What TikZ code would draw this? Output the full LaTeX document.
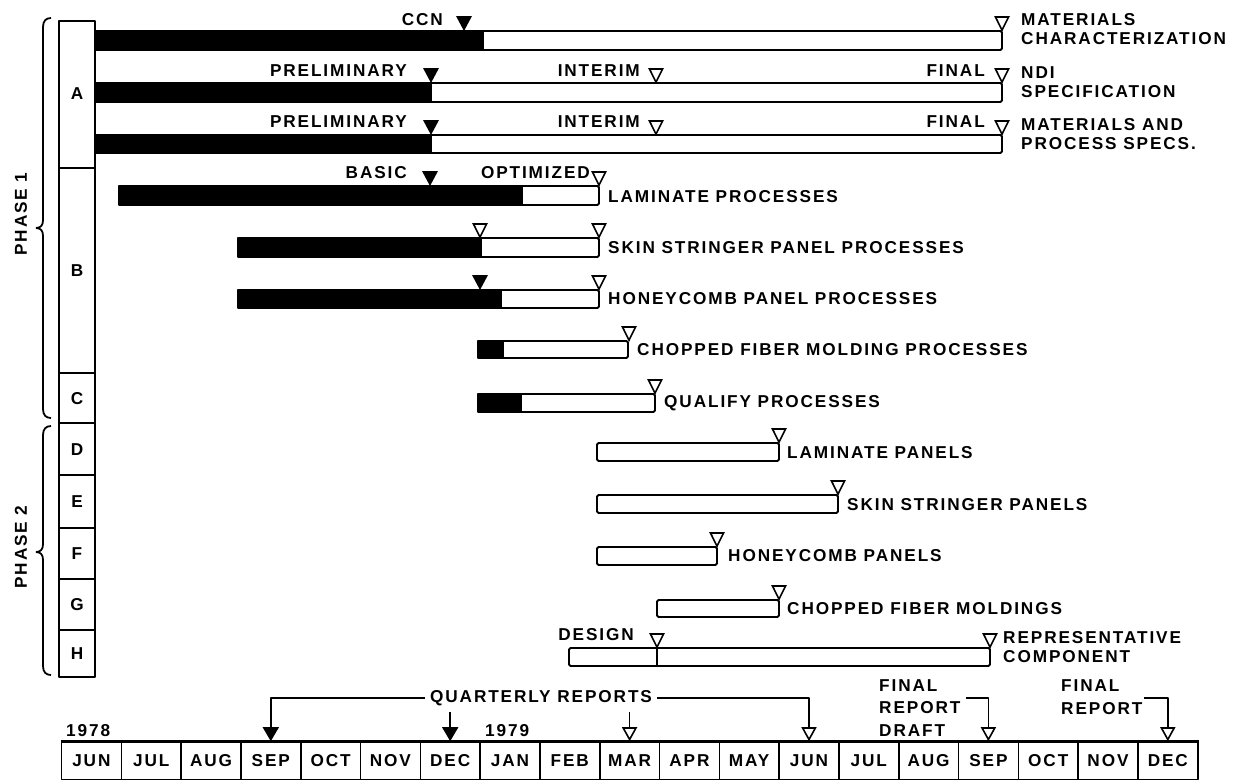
\documentclass[tikz,border=0pt]{standalone}
\usepackage{fontspec}
\newfontfamily\chartfont[LetterSpace=11]{Liberation Sans}
\usetikzlibrary{arrows.meta}
\tikzset{
  lbl/.style={font=\chartfont\bfseries\fontsize{17.2bp}{19bp}\selectfont,inner sep=0pt},
  tall/.style={lbl,font=\chartfont\bfseries\fontsize{17.2bp}{22.5bp}\selectfont,align=left},
  bar/.style={draw,line width=1.8bp,fill=white,rounded corners=1.5bp},
  donebar/.style={draw,line width=1.8bp,fill=black},
  month/.style={lbl,draw,line width=1.6bp,minimum width=59.8bp,minimum height=37.5bp},
  conn/.style={line width=1.6bp},
  fullmark/.pic={\fill (-8bp,15bp) -- (8bp,15bp) -- (0bp,0bp) -- cycle;},
  openmark/.pic={\draw[line width=1.6bp,fill=white,line join=miter] (-6.5bp,14bp) -- (6.5bp,14bp) -- (0bp,0.8bp) -- cycle;},
}
\begin{document}
\begin{tikzpicture}[yscale=-1,line join=bevel]
\useasboundingbox (0bp,0bp) rectangle (1245bp,780bp);
%% task column
\draw[line width=1.8bp] (59bp,21bp) rectangle (95bp,677bp);
\draw[line width=1.8bp] (59bp,168bp) -- (95bp,168bp);
\draw[line width=1.8bp] (59bp,373bp) -- (95bp,373bp);
\draw[line width=1.8bp] (59bp,423bp) -- (95bp,423bp);
\draw[line width=1.8bp] (59bp,475bp) -- (95bp,475bp);
\draw[line width=1.8bp] (59bp,528bp) -- (95bp,528bp);
\draw[line width=1.8bp] (59bp,579bp) -- (95bp,579bp);
\draw[line width=1.8bp] (59bp,630bp) -- (95bp,630bp);
\node (colA) at (77bp,94bp) [lbl] {A};
\node (colB) at (77bp,271bp) [lbl] {B};
\node (colC) at (77bp,399bp) [lbl] {C};
\node (colD) at (77bp,450bp) [lbl] {D};
\node (colE) at (77bp,502bp) [lbl] {E};
\node (colF) at (77bp,554bp) [lbl] {F};
\node (colG) at (77bp,605bp) [lbl] {G};
\node (colH) at (77bp,654bp) [lbl] {H};
%% phases
\draw[line width=1.8bp] (51bp,18bp) .. controls (46bp,18bp) and (43bp,21bp) .. (43bp,27bp) -- (43bp,220bp) .. controls (43bp,225bp) and (41bp,228bp) .. (36bp,228bp) .. controls (41bp,228bp) and (43bp,231bp) .. (43bp,236bp) -- (43bp,409bp) .. controls (43bp,415bp) and (46bp,418bp) .. (51bp,418bp);
\draw[line width=1.8bp] (51bp,426bp) .. controls (46bp,426bp) and (43bp,429bp) .. (43bp,435bp) -- (43bp,544bp) .. controls (43bp,549bp) and (41bp,552bp) .. (36bp,552bp) .. controls (41bp,552bp) and (43bp,555bp) .. (43bp,560bp) -- (43bp,666bp) .. controls (43bp,672bp) and (46bp,675bp) .. (51bp,675bp);
\node (phase1) at (21bp,214bp) [lbl,rotate=90] {PHASE 1};
\node (phase2) at (21bp,547bp) [lbl,rotate=90] {PHASE 2};
%% A
\draw[bar] (95bp,31bp) rectangle (1002bp,50bp);
\draw[donebar] (95bp,31bp) rectangle (483bp,50bp);
\pic at (464bp,31bp) {fullmark};
\pic at (1002bp,31bp) {openmark};
\node (ccn) at (443bp,20bp) [lbl,anchor=east] {CCN};
\node (matchar) at (1021bp,29bp) [lbl,anchor=west,align=left] {MATERIALS\\CHARACTERIZATION};
\draw[bar] (95bp,83bp) rectangle (1002bp,102bp);
\draw[donebar] (95bp,83bp) rectangle (431bp,102bp);
\pic at (431bp,83bp) {fullmark};
\pic at (656bp,83bp) {openmark};
\pic at (1002bp,83bp) {openmark};
\node (ndiprel) at (407bp,71bp) [lbl,anchor=east] {PRELIMINARY};
\node (ndiint) at (640bp,71bp) [lbl,anchor=east] {INTERIM};
\node (ndifin) at (985bp,71bp) [lbl,anchor=east] {FINAL};
\node (ndispec) at (1021bp,82bp) [lbl,anchor=west,align=left] {NDI\\SPECIFICATION};
\draw[bar] (95bp,135bp) rectangle (1002bp,153bp);
\draw[donebar] (95bp,135bp) rectangle (431bp,153bp);
\pic at (431bp,135bp) {fullmark};
\pic at (656bp,135bp) {openmark};
\pic at (1002bp,135bp) {openmark};
\node (mpprel) at (407bp,122bp) [lbl,anchor=east] {PRELIMINARY};
\node (mpint) at (640bp,122bp) [lbl,anchor=east] {INTERIM};
\node (mpfin) at (985bp,122bp) [lbl,anchor=east] {FINAL};
\node (mpspec) at (1021bp,134bp) [lbl,anchor=west,align=left] {MATERIALS AND\\PROCESS SPECS.};
%% B
\draw[bar] (119bp,186bp) rectangle (599bp,205bp);
\draw[donebar] (119bp,186bp) rectangle (522bp,205bp);
\pic at (430bp,186bp) {fullmark};
\pic at (599bp,186bp) {openmark};
\node (basic) at (407bp,173bp) [lbl,anchor=east] {BASIC};
\node (optim) at (590bp,173bp) [lbl,anchor=east] {OPTIMIZED};
\node (lamproc) at (608bp,197bp) [lbl,anchor=west] {LAMINATE PROCESSES};
\draw[bar] (238bp,238bp) rectangle (599bp,257bp);
\draw[donebar] (238bp,238bp) rectangle (481bp,257bp);
\pic at (480bp,238bp) {openmark};
\pic at (599bp,238bp) {openmark};
\node (ssproc) at (608bp,248bp) [lbl,anchor=west] {SKIN STRINGER PANEL PROCESSES};
\draw[bar] (238bp,290bp) rectangle (599bp,308bp);
\draw[donebar] (238bp,290bp) rectangle (501bp,308bp);
\pic at (480bp,290bp) {fullmark};
\pic at (599bp,290bp) {openmark};
\node (hcproc) at (608bp,299bp) [lbl,anchor=west] {HONEYCOMB PANEL PROCESSES};
\draw[bar] (478bp,341bp) rectangle (628bp,358bp);
\draw[donebar] (478bp,341bp) rectangle (503bp,358bp);
\pic at (629bp,341bp) {openmark};
\node (cfproc) at (637bp,350bp) [lbl,anchor=west] {CHOPPED FIBER MOLDING PROCESSES};
%% C
\draw[bar] (478bp,394bp) rectangle (655bp,412bp);
\draw[donebar] (478bp,394bp) rectangle (521bp,412bp);
\pic at (655bp,394bp) {openmark};
\node (qualproc) at (664bp,403bp) [lbl,anchor=west] {QUALIFY PROCESSES};
%% D - H
\draw[bar] (597bp,443bp) rectangle (779bp,461bp);
\pic at (779bp,443bp) {openmark};
\node (lampan) at (787bp,453bp) [lbl,anchor=west] {LAMINATE PANELS};
\draw[bar] (597bp,495bp) rectangle (838bp,513bp);
\pic at (838bp,495bp) {openmark};
\node (sspan) at (847bp,505bp) [lbl,anchor=west] {SKIN STRINGER PANELS};
\draw[bar] (597bp,547bp) rectangle (717bp,565bp);
\pic at (717bp,547bp) {openmark};
\node (hcpan) at (728bp,556bp) [lbl,anchor=west] {HONEYCOMB PANELS};
\draw[bar] (657bp,600bp) rectangle (779bp,617bp);
\pic at (779bp,600bp) {openmark};
\node (cfmold) at (787bp,609bp) [lbl,anchor=west] {CHOPPED FIBER MOLDINGS};
\draw[bar] (569bp,648bp) rectangle (990bp,666bp);
\draw[line width=1.6bp] (657bp,648bp) -- (657bp,666bp);
\pic at (657bp,648bp) {openmark};
\pic at (990bp,648bp) {openmark};
\node (design) at (634bp,635bp) [lbl,anchor=east] {DESIGN};
\node (repcomp) at (1003bp,647bp) [lbl,anchor=west,align=left] {REPRESENTATIVE\\COMPONENT};
%% months
\node (jun78) at (91.4bp,760.75bp) [month] {JUN};
\node (jul78) at (151.2bp,760.75bp) [month] {JUL};
\node (aug78) at (211.0bp,760.75bp) [month] {AUG};
\node (sep78) at (270.8bp,760.75bp) [month] {SEP};
\node (oct78) at (330.6bp,760.75bp) [month] {OCT};
\node (nov78) at (390.4bp,760.75bp) [month] {NOV};
\node (dec78) at (450.2bp,760.75bp) [month] {DEC};
\node (jan79) at (510.0bp,760.75bp) [month] {JAN};
\node (feb79) at (569.8bp,760.75bp) [month] {FEB};
\node (mar79) at (629.6bp,760.75bp) [month] {MAR};
\node (apr79) at (689.4bp,760.75bp) [month] {APR};
\node (may79) at (749.2bp,760.75bp) [month] {MAY};
\node (jun79) at (809.0bp,760.75bp) [month] {JUN};
\node (jul79) at (868.8bp,760.75bp) [month] {JUL};
\node (aug79) at (928.6bp,760.75bp) [month] {AUG};
\node (sep79) at (988.4bp,760.75bp) [month] {SEP};
\node (oct79) at (1048.2bp,760.75bp) [month] {OCT};
\node (nov79) at (1108.0bp,760.75bp) [month] {NOV};
\node (dec79) at (1167.8bp,760.75bp) [month] {DEC};
\draw[line width=2.6bp] (jun78.north west) -- (dec79.north east);
\node (y1978) at (66bp,731bp) [lbl,anchor=west] {1978};
\node (y1979) at (485bp,731bp) [lbl,anchor=west] {1979};
%% reports
\node (qrep) at (541bp,698bp) [lbl,inner xsep=5bp] {QUARTERLY REPORTS};
\draw[conn,-{Triangle[length=14bp,width=16bp]}] (qrep.west) -| (sep78.north);
\draw[conn,-{Triangle[length=14bp,width=16bp]}] (qrep.south -| dec78.north) ++(0bp,6bp) -- (dec78.north);
\draw[conn,-{Triangle[open,length=14bp,width=15bp]}] (qrep.south -| mar79.north) ++(0bp,6bp) -- (mar79.north);
\draw[conn,-{Triangle[open,length=14bp,width=15bp]}] (qrep.east) -| (jun79.north);
\node (frdraft) at (879bp,708bp) [tall,anchor=west] {FINAL\\REPORT\\DRAFT};
\coordinate (frdraftend) at (966bp,698bp);
\draw[conn,-{Triangle[open,length=14bp,width=15bp]}] (frdraftend) -| (sep79.north);
\node (frfinal) at (1061bp,697bp) [tall,anchor=west] {FINAL\\REPORT};
\coordinate (frfinalend) at (1144bp,698bp);
\draw[conn,-{Triangle[open,length=14bp,width=15bp]}] (frfinalend) -| (dec79.north);
%
\end{tikzpicture}
\end{document}
